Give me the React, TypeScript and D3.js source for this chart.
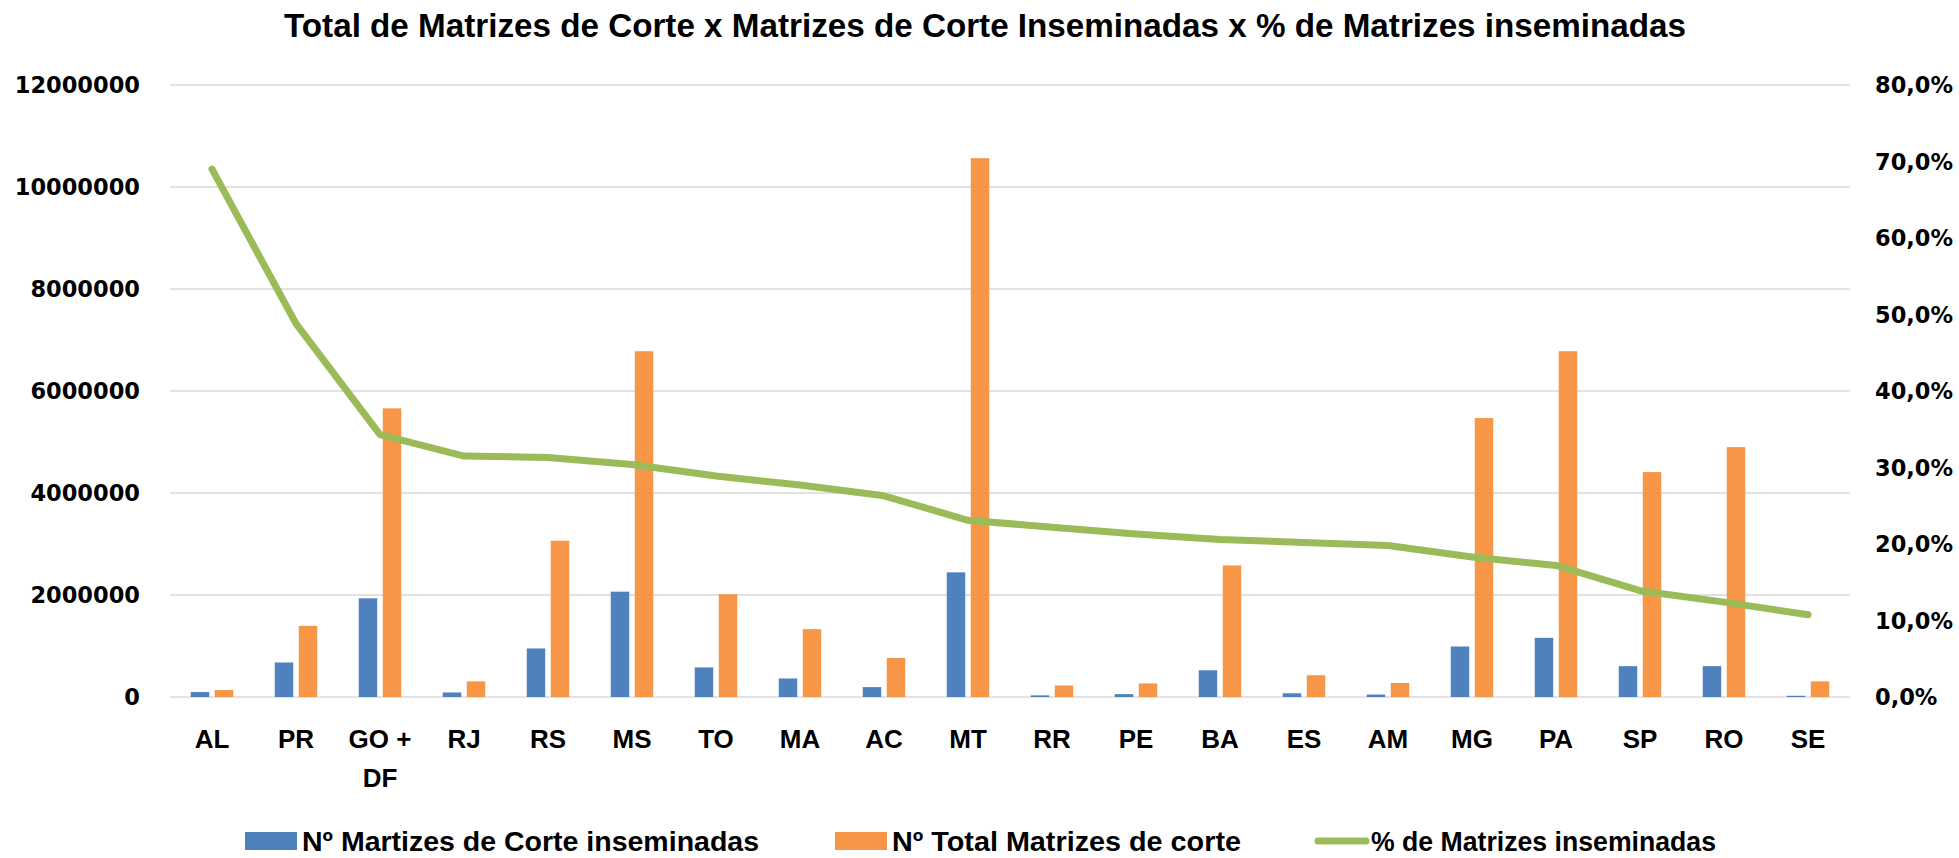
import React, { useEffect, useRef } from 'react';
import * as d3 from 'd3';

const categories = ["AL", "PR", "GO + DF", "RJ", "RS", "MS", "TO", "MA", "AC", "MT", "RR", "PE", "BA", "ES", "AM", "MG", "PA", "SP", "RO", "SE"];
const inseminadas = [97000, 677000, 1935000, 89000, 952000, 2065000, 580000, 363000, 194000, 2444000, 32000, 56000, 524000, 73000, 48000, 990000, 1160000, 605000, 605000, 24000];
const totalMatrizes = [137000, 1395000, 5660000, 306000, 3065000, 6780000, 2016000, 1330000, 766000, 10565000, 226000, 266000, 2580000, 427000, 274000, 5470000, 6780000, 4410000, 4900000, 306000];
const pctInseminadas = [0.690, 0.488, 0.343, 0.315, 0.313, 0.304, 0.289, 0.277, 0.263, 0.231, 0.222, 0.213, 0.206, 0.202, 0.198, 0.183, 0.172, 0.139, 0.124, 0.1075];
const leftTicks = [0, 2000000, 4000000, 6000000, 8000000, 10000000, 12000000];
const rightTicks = [0, 0.1, 0.2, 0.3, 0.4, 0.5, 0.6, 0.7, 0.8];
const seriesNames = ["Nº  Martizes de Corte inseminadas", "Nº Total Matrizes de corte", "% de Matrizes inseminadas"];

const W = 1959;
const H = 858;
const BLUE = "#4F81BD";
const ORANGE = "#F79646";
const GREEN = "#9BBB59";
const narrow = "'Liberation Sans Narrow', 'Liberation Sans', Arial, sans-serif";
const wide = "'DejaVu Sans', Verdana, sans-serif";

const App = () => {
  const svgRef = useRef<SVGSVGElement>(null);

  useEffect(() => {
    const svg = d3.select(svgRef.current);
    svg.selectAll("*").remove();

    const margin = { top: 85, right: W - 1850, bottom: H - 697, left: 170 };

    const x = d3.scaleBand<string>()
      .domain(categories)
      .range([margin.left, W - margin.right])
      .paddingInner(0.494)
      .paddingOuter(0.247);

    const xSub = d3.scaleBand<string>()
      .domain(["ins", "tot"])
      .range([0, x.bandwidth()])
      .paddingInner(0.23);

    const y = d3.scaleLinear().domain([0, 12000000]).range([H - margin.bottom, margin.top]);
    const y2 = d3.scaleLinear().domain([0, 0.8]).range([H - margin.bottom, margin.top]);

    // Title
    svg.append("text")
      .attr("x", 985)
      .attr("y", 37)
      .attr("text-anchor", "middle")
      .attr("font-family", narrow)
      .attr("font-weight", "bold")
      .attr("font-size", 33)
      .attr("textLength", 1402)
      .attr("lengthAdjust", "spacingAndGlyphs")
      .text("Total de Matrizes de Corte x Matrizes de Corte Inseminadas x % de Matrizes inseminadas");

    // Gridlines
    svg.append("g")
      .selectAll("line")
      .data(leftTicks)
      .enter()
      .append("line")
      .attr("x1", margin.left)
      .attr("x2", W - margin.right)
      .attr("y1", d => y(d))
      .attr("y2", d => y(d))
      .attr("stroke", "#D9D9D9")
      .attr("stroke-width", 1.5);

    // Left axis labels
    svg.append("g")
      .selectAll("text")
      .data(leftTicks)
      .enter()
      .append("text")
      .attr("x", 140)
      .attr("y", d => y(d))
      .attr("dy", "0.36em")
      .attr("text-anchor", "end")
      .attr("font-family", wide)
      .attr("font-weight", "bold")
      .attr("font-size", 22.5)
      .text(d => String(d));

    // Right axis labels
    const pctFmt = (v: number) => (v * 100).toFixed(1).replace(".", ",") + "%";
    svg.append("g")
      .selectAll("text")
      .data(rightTicks)
      .enter()
      .append("text")
      .attr("x", 1875)
      .attr("y", d => y2(d))
      .attr("dy", "0.36em")
      .attr("text-anchor", "start")
      .attr("font-family", wide)
      .attr("font-weight", "bold")
      .attr("font-size", 22.5)
      .text(d => pctFmt(d));

    // Bars
    const bars = svg.append("g");
    bars.selectAll(".bar-ins")
      .data(categories)
      .enter()
      .append("rect")
      .attr("class", "bar-ins")
      .attr("x", d => (x(d) as number) + (xSub("ins") as number))
      .attr("width", xSub.bandwidth())
      .attr("y", (d, i) => y(inseminadas[i]))
      .attr("height", (d, i) => y(0) - y(inseminadas[i]))
      .attr("fill", BLUE);

    bars.selectAll(".bar-tot")
      .data(categories)
      .enter()
      .append("rect")
      .attr("class", "bar-tot")
      .attr("x", d => (x(d) as number) + (xSub("tot") as number))
      .attr("width", xSub.bandwidth())
      .attr("y", (d, i) => y(totalMatrizes[i]))
      .attr("height", (d, i) => y(0) - y(totalMatrizes[i]))
      .attr("fill", ORANGE);

    // Line
    const line = d3.line<number>()
      .x((d, i) => (x(categories[i]) as number) + x.bandwidth() / 2)
      .y(d => y2(d));

    svg.append("path")
      .datum(pctInseminadas)
      .attr("d", line)
      .attr("fill", "none")
      .attr("stroke", GREEN)
      .attr("stroke-width", 7)
      .attr("stroke-linecap", "round")
      .attr("stroke-linejoin", "round");

    // Category labels
    const labels = svg.append("g");
    categories.forEach(c => {
      const words = c.split(" ");
      const lines = words.length > 2 ? [words.slice(0, 2).join(" "), words.slice(2).join(" ")] : [c];
      const t = labels.append("text")
        .attr("text-anchor", "middle")
        .attr("font-family", narrow)
        .attr("font-weight", "bold")
        .attr("font-size", 26);
      lines.forEach((l, k) => {
        t.append("tspan")
          .attr("x", (x(c) as number) + x.bandwidth() / 2)
          .attr("y", 748 + k * 39)
          .text(l);
      });
    });

    // Legend
    const legend = svg.append("g");
    const legendItems = [
      { name: seriesNames[0], color: BLUE, sx: 245, tx: 302, tw: 457, type: "rect" },
      { name: seriesNames[1], color: ORANGE, sx: 835, tx: 892, tw: 349, type: "rect" },
      { name: seriesNames[2], color: GREEN, sx: 1315, tx: 1371, tw: 345, type: "line" }
    ];
    legendItems.forEach(it => {
      if (it.type === "rect") {
        legend.append("rect")
          .attr("x", it.sx)
          .attr("y", 832)
          .attr("width", 52)
          .attr("height", 18)
          .attr("fill", it.color);
      } else {
        legend.append("line")
          .attr("x1", it.sx + 3)
          .attr("x2", it.sx + 51)
          .attr("y1", 841)
          .attr("y2", 841)
          .attr("stroke", it.color)
          .attr("stroke-width", 7)
          .attr("stroke-linecap", "round");
      }
      legend.append("text")
        .attr("x", it.tx)
        .attr("y", 851)
        .attr("font-family", narrow)
        .attr("font-weight", "bold")
        .attr("font-size", 27)
        .attr("textLength", it.tw)
        .attr("lengthAdjust", "spacingAndGlyphs")
        .text(it.name);
    });
  }, []);

  return (
    <svg
      ref={svgRef}
      width={W}
      height={H}
      style={{ position: "absolute", left: 0, top: 0, background: "#fff", display: "block" }}
    />
  );
};

export default App;
